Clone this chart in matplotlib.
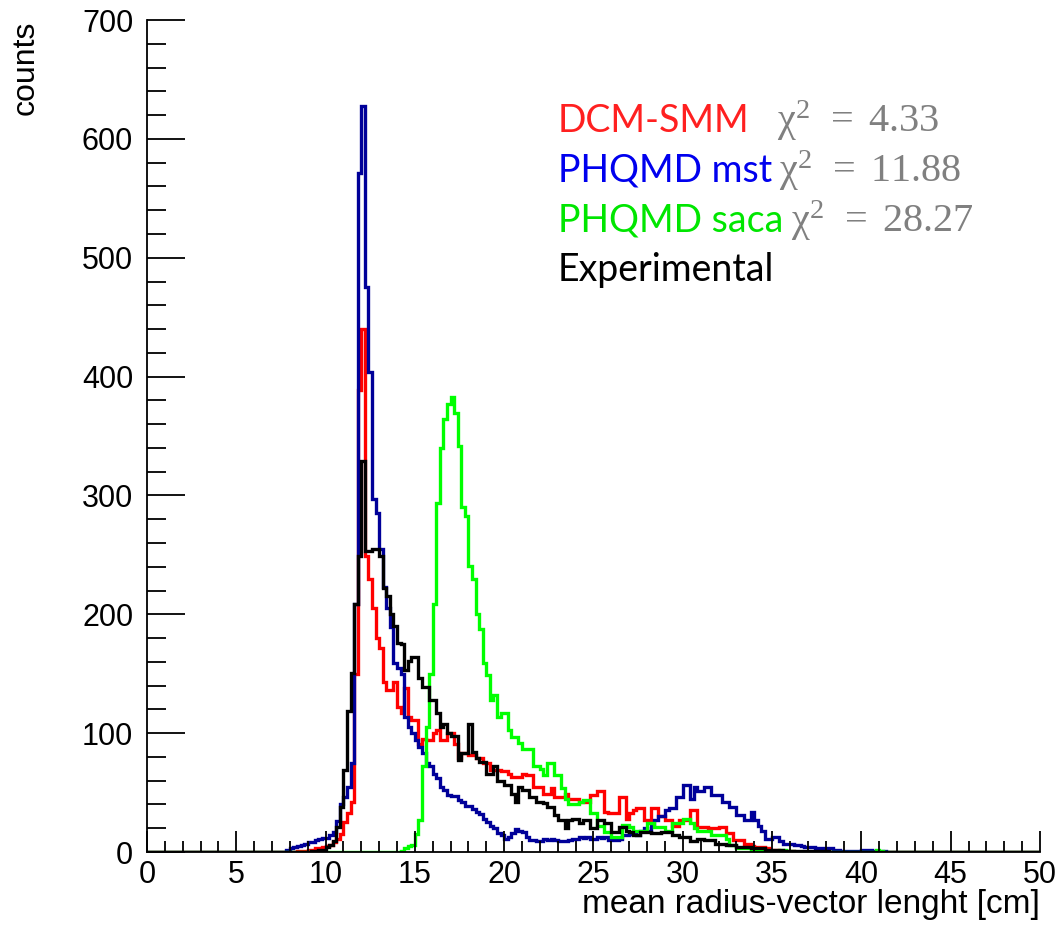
import numpy as np
import matplotlib.pyplot as plt

# bins of 0.2 cm, the listed values start at x = 7.0 (one row = 1 cm)
bin_width = 0.2
x_start = 7.0

dcm_smm = [
    0, 0, 0, 0, 0,
    0, 0, 1, 1, 1,
    2, 2, 3, 3, 4,
    5, 6, 8, 11, 15,
    25, 33, 42, 150, 389,
    440, 249, 230, 205, 180,
    172, 143, 136, 136, 143,
    122, 117, 138, 114, 111,
    111, 91, 95, 94, 94,
    100, 103, 94, 94, 100,
    100, 91, 79, 83, 83,
    82, 82, 79, 79, 75,
    75, 69, 69, 69, 68,
    68, 66, 63, 63, 63,
    66, 65, 65, 55, 55,
    55, 49, 49, 54, 46,
    46, 46, 49, 45, 45,
    45, 42, 42, 42, 48,
    48, 51, 51, 34, 33,
    33, 33, 46, 46, 28,
    33, 35, 37, 37, 27,
    27, 37, 37, 30, 30,
    27, 27, 22, 22, 27,
    27, 27, 35, 35, 21,
    21, 21, 20, 20, 20,
    21, 21, 16, 16, 10,
    10, 10, 7, 7, 5,
    4, 4, 4, 3, 2,
    2, 2, 1, 1, 1,
    1, 0, 0, 0, 0,
    0, 0, 0, 0, 0,
    0, 0, 0, 0, 0,
    0, 0, 0, 0, 0,
    0, 0, 0, 0, 0,
    0, 0, 0, 0, 0,
]

phqmd_mst = [
    0, 0, 0, 0, 2,
    3, 4, 5, 6, 7,
    8, 8, 10, 11, 12,
    12, 14, 17, 26, 40,
    46, 55, 75, 209, 571,
    628, 475, 404, 297, 285,
    255, 223, 205, 189, 159,
    155, 150, 114, 105, 100,
    94, 88, 83, 75, 72,
    66, 62, 55, 52, 48,
    47, 47, 44, 42, 39,
    39, 36, 34, 32, 28,
    25, 22, 20, 16, 14,
    11, 13, 16, 19, 18,
    17, 13, 10, 10, 9,
    9, 11, 10, 11, 10,
    9, 9, 9, 10, 11,
    11, 13, 12, 13, 11,
    11, 13, 12, 13, 10,
    10, 10, 11, 14, 14,
    15, 16, 14, 18, 20,
    18, 22, 27, 30, 30,
    35, 37, 37, 46, 46,
    56, 56, 45, 55, 51,
    51, 55, 55, 48, 48,
    48, 42, 42, 38, 38,
    31, 31, 27, 27, 34,
    27, 22, 18, 11, 11,
    13, 13, 9, 7, 7,
    7, 6, 6, 5, 4,
    4, 4, 3, 3, 3,
    3, 3, 2, 2, 1,
    1, 1, 1, 1, 1,
    2, 2, 2, 1, 0,
    0, 1, 0, 0, 0,
]

phqmd_saca = [
    0, 0, 0, 0, 0,
    0, 0, 0, 0, 0,
    0, 0, 0, 0, 0,
    0, 0, 0, 0, 0,
    0, 0, 0, 0, 0,
    0, 0, 0, 0, 0,
    0, 0, 0, 0, 0,
    0, 1, 3, 5, 6,
    15, 27, 72, 105, 150,
    209, 294, 340, 364, 377,
    383, 369, 342, 290, 283,
    241, 230, 200, 188, 159,
    149, 128, 132, 114, 117,
    117, 103, 97, 97, 92,
    87, 87, 87, 72, 72,
    70, 65, 75, 75, 65,
    65, 54, 45, 40, 40,
    40, 42, 44, 44, 33,
    33, 22, 22, 17, 17,
    13, 13, 13, 23, 23,
    21, 18, 18, 18, 18,
    24, 24, 21, 21, 21,
    18, 18, 24, 24, 24,
    28, 28, 24, 20, 18,
    18, 18, 18, 14, 14,
    14, 14, 11, 6, 6,
    3, 3, 3, 3, 2,
    2, 2, 2, 1, 1,
    1, 1, 2, 2, 1,
    1, 0, 0, 0, 0,
    0, 0, 0, 0, 0,
    0, 0, 0, 0, 0,
    0, 0, 0, 0, 0,
    0, 0, 0, 0, 2,
    1, 0, 0, 0, 0,
]

experimental = [
    0, 0, 0, 0, 0,
    0, 0, 0, 0, 0,
    0, 1, 1, 2, 2,
    4, 6, 9, 21, 38,
    69, 119, 151, 209, 249,
    329, 253, 253, 255, 255,
    249, 222, 215, 200, 190,
    176, 175, 153, 161, 164,
    164, 146, 139, 139, 128,
    128, 117, 105, 108, 100,
    98, 98, 77, 83, 83,
    108, 84, 79, 76, 76,
    66, 66, 72, 60, 60,
    56, 56, 49, 42, 55,
    52, 52, 46, 46, 42,
    42, 41, 38, 38, 31,
    27, 27, 20, 27, 28,
    28, 24, 27, 27, 20,
    20, 27, 27, 24, 24,
    17, 17, 21, 21, 18,
    17, 14, 14, 17, 17,
    17, 16, 16, 16, 17,
    17, 17, 14, 14, 13,
    13, 13, 9, 9, 11,
    11, 10, 10, 10, 7,
    7, 7, 6, 6, 6,
    4, 4, 4, 4, 3,
    3, 3, 3, 2, 2,
    2, 2, 2, 1, 1,
    1, 1, 1, 1, 1,
    1, 1, 1, 1, 1,
    1, 0, 0, 0, 0,
    0, 0, 0, 0, 0,
    0, 0, 0, 0, 0,
    0, 0, 0, 0, 0,
]

labels = ["DCM-SMM", "PHQMD mst", "PHQMD saca", "Experimental"]
chi2 = ["4.33", "11.88", "28.27", None]
line_colors = ["#ff0000", "#000099", "#00ff00", "#000000"]
text_colors = ["#ff2020", "#0000ee", "#00e600", "#000000"]

xticks = [0, 5, 10, 15, 20, 25, 30, 35, 40, 45, 50]
yticks = [0, 100, 200, 300, 400, 500, 600, 700]


def full_hist(values):
    edges = np.linspace(0, 50, 251)
    counts = np.zeros(250)
    i0 = int(round(x_start / bin_width))
    counts[i0:i0 + len(values)] = values
    return counts, edges


plt.rcParams['font.family'] = ['Liberation Sans', 'DejaVu Sans']
# upright serif maths for the chi2 values
plt.rcParams['mathtext.fontset'] = 'custom'
plt.rcParams['mathtext.rm'] = 'Liberation Serif'
plt.rcParams['mathtext.it'] = 'Liberation Serif'
plt.rcParams['mathtext.default'] = 'rm'

fig = plt.figure(figsize=(10.64, 9.27), dpi=100)
ax = fig.add_axes([0.1382, 0.0809, 0.8392, 0.8975])

for data, c in zip([dcm_smm, phqmd_mst, phqmd_saca, experimental], line_colors):
    counts, edges = full_hist(data)
    ax.stairs(counts, edges, color=c, linewidth=2.4)

ax.set_xlim(0, 50)
ax.set_ylim(0, 700)
ax.set_xticks(xticks)
ax.set_yticks(yticks)
ax.set_xticks(np.arange(0, 51, 1), minor=True)
ax.set_yticks(np.arange(0, 701, 20), minor=True)
ax.tick_params(axis='both', which='both', direction='in', labelsize=22, width=1.3)
ax.tick_params(axis='x', which='major', length=15, pad=6)
ax.tick_params(axis='x', which='minor', length=8)
ax.tick_params(axis='y', which='major', length=27, pad=10)
ax.tick_params(axis='y', which='minor', length=14)
ax.spines['top'].set_visible(False)
ax.spines['right'].set_visible(False)
for s in ['left', 'bottom']:
    ax.spines[s].set_linewidth(1.3)

fig.text(0.024, 0.978, "counts", rotation=90, ha='center', va='top', fontsize=23)
fig.text(0.9774, 0.024, "mean radius-vector lenght [cm]", ha='right', va='center', fontsize=24)

# legend written as coloured text with the chi2 values next to it
gaps = [20, 5, 6, 0]
for i, lab in enumerate(labels):
    t = ax.text(0.46, 0.879 - i * 0.060, lab, transform=ax.transAxes,
                color=text_colors[i], fontsize=27, family='Lato', va='center')
    if chi2[i] is not None:
        ax.annotate(r"$\chi^2\;\,=\;%s$" % chi2[i], xy=(1, 0.5), xycoords=t,
                    xytext=(gaps[i], 0), textcoords='offset points',
                    va='center', ha='left', color='#808080', fontsize=29)

fig.savefig("out.png", dpi=100)
